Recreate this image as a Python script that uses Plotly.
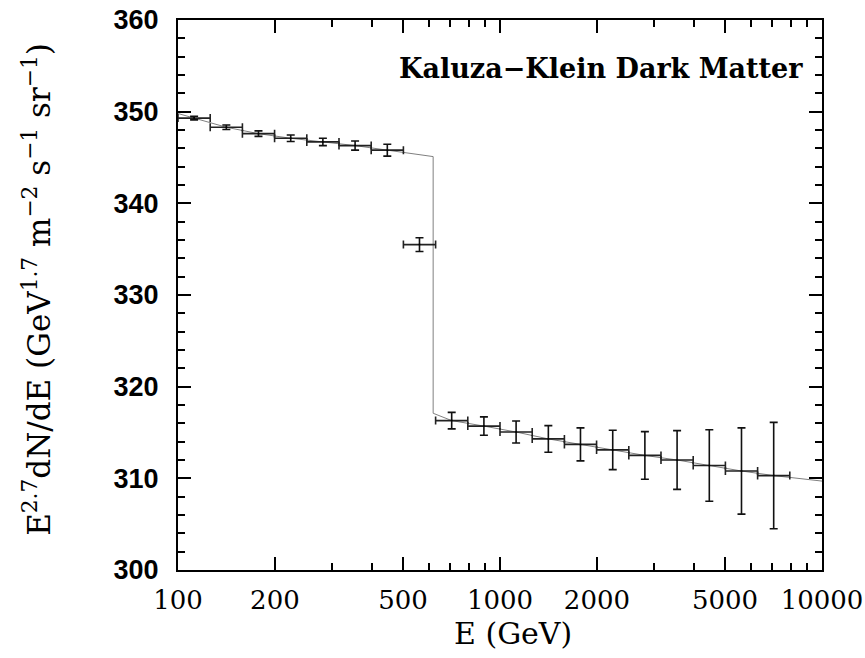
import plotly.graph_objects as go

# ---- data ----
energy = [112.2, 141.3, 177.8, 223.9, 281.8, 354.8, 446.7, 562.3, 707.9, 891.3,
          1122, 1413, 1778, 2239, 2818, 3548, 4467, 5623, 7079]
bin_lo = [100, 125.9, 158.5, 199.5, 251.2, 316.2, 398.1, 501.2, 631.0, 794.3,
          1000, 1259, 1585, 1995, 2512, 3162, 3981, 5012, 6310]
bin_hi = [125.9, 158.5, 199.5, 251.2, 316.2, 398.1, 501.2, 631.0, 794.3, 1000,
          1259, 1585, 1995, 2512, 3162, 3981, 5012, 6310, 7943]
flux = [349.3, 348.3, 347.6, 347.1, 346.7, 346.3, 345.8, 335.5, 316.3, 315.7,
        315.05, 314.3, 313.7, 313.1, 312.5, 312.0, 311.4, 310.8, 310.3]
flux_err = [0.2, 0.25, 0.3, 0.35, 0.4, 0.5, 0.65, 0.75, 0.9, 1.0,
            1.2, 1.45, 1.8, 2.15, 2.6, 3.2, 3.9, 4.7, 5.8]

model_E = [100, 112.2, 141.3, 177.8, 223.9, 281.8, 354.8, 446.7, 620, 620,
           707.9, 891.3, 1122, 1413, 1778, 2239, 2818, 3548, 4467, 5623, 7079, 10000]
model_F = [349.8, 349.3, 348.3, 347.6, 347.1, 346.7, 346.3, 345.8, 345.1, 317.1,
           316.3, 315.7, 315.05, 314.3, 313.7, 313.1, 312.5, 312.0, 311.4, 310.8, 310.3, 309.7]

x_ticks = [100, 200, 500, 1000, 2000, 5000, 10000]
x_minor = [300, 400, 600, 700, 800, 900, 3000, 4000, 6000, 7000, 8000, 9000]
y_ticks = [300, 310, 320, 330, 340, 350, 360]

err_plus = [h - e for h, e in zip(bin_hi, energy)]
err_minus = [e - l for e, l in zip(energy, bin_lo)]

fig = go.Figure()
fig.add_trace(go.Scatter(x=model_E, y=model_F, mode="lines",
                         line=dict(color="#808080", width=1), hoverinfo="skip"))
fig.add_trace(go.Scatter(
    x=energy, y=flux, mode="markers",
    marker=dict(size=2, color="black"),
    error_y=dict(type="data", array=flux_err, color="#111111", thickness=1.6, width=4),
    error_x=dict(type="data", array=err_plus, arrayminus=err_minus,
                 color="#222222", thickness=1.6, width=4),
))

axis_common = dict(showline=True, linewidth=2, linecolor="black", mirror="allticks",
                   ticks="inside", tickcolor="black", showgrid=False, zeroline=False,
                   automargin=False)

fig.update_xaxes(type="log", range=[2, 4], tickvals=x_ticks, ticktext=[str(v) for v in x_ticks],
                 ticklen=13, tickwidth=2,
                 minor=dict(tickvals=x_minor, ticklen=7, tickwidth=1.5, ticks="inside", tickcolor="black"),
                 tickfont=dict(family="DejaVu Serif", size=26, color="black"),
                 ticklabelstandoff=6, **axis_common)
fig.update_yaxes(range=[300, 360], tickvals=y_ticks,
                 ticklen=13, tickwidth=2,
                 minor=dict(dtick=2, ticklen=7, tickwidth=1.5, ticks="inside", tickcolor="black"),
                 tickfont=dict(family="Liberation Sans", size=27, color="black", weight="bold"),
                 ticklabelstandoff=12, **axis_common)

fig.add_annotation(text="Kaluza\u2212Klein Dark Matter", xref="paper", yref="paper",
                   x=0.974, y=0.912, xanchor="right", yanchor="middle", showarrow=False,
                   font=dict(family="DejaVu Serif", size=27, color="black", weight="bold"))
fig.add_annotation(text="E (GeV)", xref="paper", yref="paper",
                   x=0.52, y=-0.115, xanchor="center", yanchor="middle", showarrow=False,
                   font=dict(family="DejaVu Serif", size=30, color="black"))
fig.add_annotation(text="E<sup>2.7</sup>dN/dE (GeV<sup>1.7</sup> m<sup>\u22122</sup> s<sup>\u22121</sup> sr<sup>\u22121</sup>)",
                   xref="paper", yref="paper", x=-0.22, y=0.51, textangle=-90,
                   xanchor="center", yanchor="middle", showarrow=False,
                   font=dict(family="DejaVu Serif", size=31, color="black"))

fig.update_layout(width=865, height=658, showlegend=False,
                  margin=dict(l=178, r=43, t=20, b=88, autoexpand=False),
                  plot_bgcolor="white", paper_bgcolor="white")
fig.write_html("out.html")
